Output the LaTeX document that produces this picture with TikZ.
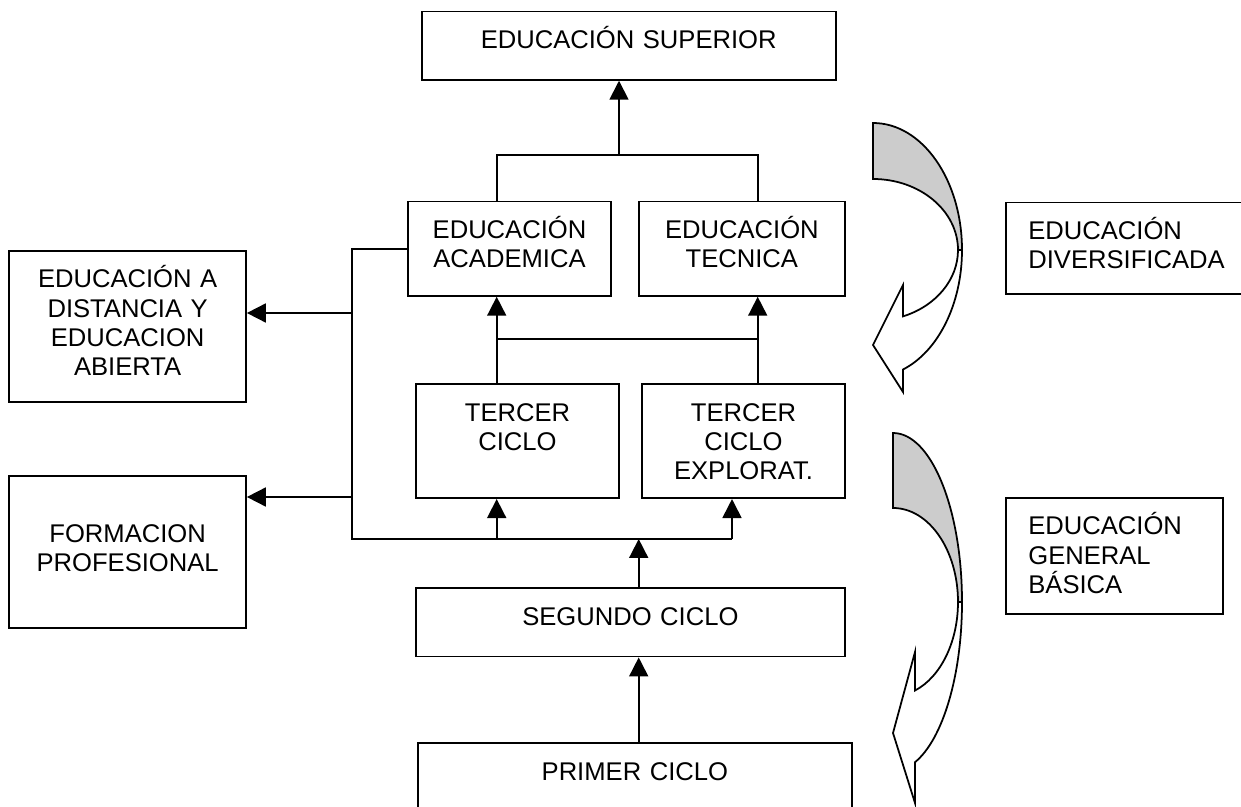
\documentclass[tikz,border=0pt]{standalone}
\usepackage{fontspec}
\setmainfont{Liberation Sans}
\usetikzlibrary{arrows.meta}
\tikzstyle{caja} = [draw, line width=1pt, inner sep=0pt, anchor=north, align=center, text height=0.74cm]
\tikzstyle{lado} = [draw, line width=1pt, inner xsep=0.45cm, inner ysep=0pt, anchor=north west, align=left, text height=0.74cm]
\tikzstyle{flecha} = [line width=1pt, -{Triangle[length=10.8pt,width=10.8pt]}]
\tikzstyle{linea} = [line width=1pt]
\definecolor{sombra}{HTML}{CCCCCC}

\begin{document}
\begin{tikzpicture}[x=0.02cm, y=-0.02cm, font={\fontsize{14.57}{16.72}\selectfont}]
	\useasboundingbox (0,0) rectangle (1241,807);
	% cajas centrales
	\node[caja, text width=8.28cm, text depth=0.626cm] (sup) at (628.7,10.7) {EDUCACIÓN SUPERIOR};
	\node[caja, text width=4.072cm, text depth=1.146cm] (acad) at (509.5,200.7) {EDUCACIÓN\\ACADEMICA};
	\node[caja, text width=4.126cm, text depth=1.146cm] (tec) at (741.85,200.7) {EDUCACIÓN\\TECNICA};
	\node[caja, text width=4.072cm, text depth=1.54cm] (ter) at (517.5,383.3) {TERCER\\CICLO};
	\node[caja, text width=4.06cm, text depth=1.54cm] (exp) at (743.5,383.3) {TERCER\\CICLO\\EXPLORAT.};
	\node[caja, text width=8.586cm, text depth=0.628cm] (seg) at (630.35,587.3) {SEGUNDO CICLO};
	\node[caja, text width=8.686cm, text depth=0.654cm] (pri) at (634.85,742.3) {PRIMER CICLO};
	% cajas laterales
	\node[caja, text width=4.734cm, text depth=2.28cm] (dist) at (127.65,250) {EDUCACIÓN A\\DISTANCIA Y\\EDUCACION\\ABIERTA};
	\node[caja, text width=4.734cm, text height=1.33cm, text depth=1.71cm] (form) at (127.65,475) {FORMACION\\PROFESIONAL};
	\node[lado, text width=4.3cm, text depth=1.086cm] (div) at (1005,201.7) {EDUCACIÓN\\DIVERSIFICADA};
	\node[lado, text width=3.44cm, text depth=1.58cm] (gen) at (1005,497) {EDUCACIÓN\\GENERAL\\BÁSICA};

	% uniones
	\coordinate (cs) at (619,155);
	\coordinate (ca) at (496.7,155);
	\coordinate (ct) at (757.7,155);
	\coordinate (ma) at (496.7,339.3);
	\coordinate (mt) at (757.7,339.3);
	\coordinate (bs) at (351.7,539);
	\coordinate (be) at (732,539);
	\coordinate (bd) at (351.7,313);
	\coordinate (bf) at (351.7,497);
	\coordinate (sg) at (638.7,587.3);

	\draw[linea] (acad.north -| ca) -- (ca) -- (ct) -- (tec.north -| ct);
	\draw[flecha] (cs) -- (sup.south -| cs);
	\draw[linea] (ter.north -| ma) -- (ma) -- (mt) -- (exp.north -| mt);
	\draw[flecha] (ma) -- (acad.south -| ma);
	\draw[flecha] (mt) -- (tec.south -| mt);
	\draw[linea] (acad.west) -| (bs) -- (be);
	\draw[flecha] (be) -- (exp.south -| be);
	\draw[flecha] (bs -| ma) -- (ter.south -| ma);
	\draw[flecha] (seg.north -| sg) -- (bs -| sg);
	\draw[flecha] (bd) -- (dist.east |- bd);
	\draw[flecha] (bf) -- (form.east |- bf);
	\draw[flecha] (pri.north -| sg) -- (seg.south -| sg);

	% flechas curvas
	\filldraw[linea, fill=sombra] (873,123) .. controls (922.2,123) and (962,179.9) .. (962,250) -- (958,250) .. controls (958,210.8) and (919.9,179) .. (873,179) -- cycle;
	\filldraw[linea, fill=white] (958,250) .. controls (958,279.5) and (936.1,306) .. (903,316.4) -- (903,285) -- (873,345) -- (903,392) -- (903,369.5) .. controls (938.4,351.3) and (962,303.7) .. (962,250) -- cycle;
	\filldraw[linea, fill=sombra] (893,433) .. controls (931.1,433) and (962,508.7) .. (962,602) -- (958,602) .. controls (958,550.1) and (928.9,508) .. (893,508) -- cycle;
	\filldraw[linea, fill=white] (958,602) .. controls (958,641.7) and (940.8,677) .. (915,690.5) -- (915,652) -- (893,733) -- (915,803) -- (915,762.2) .. controls (943.1,739.1) and (962,674.5) .. (962,602) -- cycle;
\end{tikzpicture}
\end{document}
